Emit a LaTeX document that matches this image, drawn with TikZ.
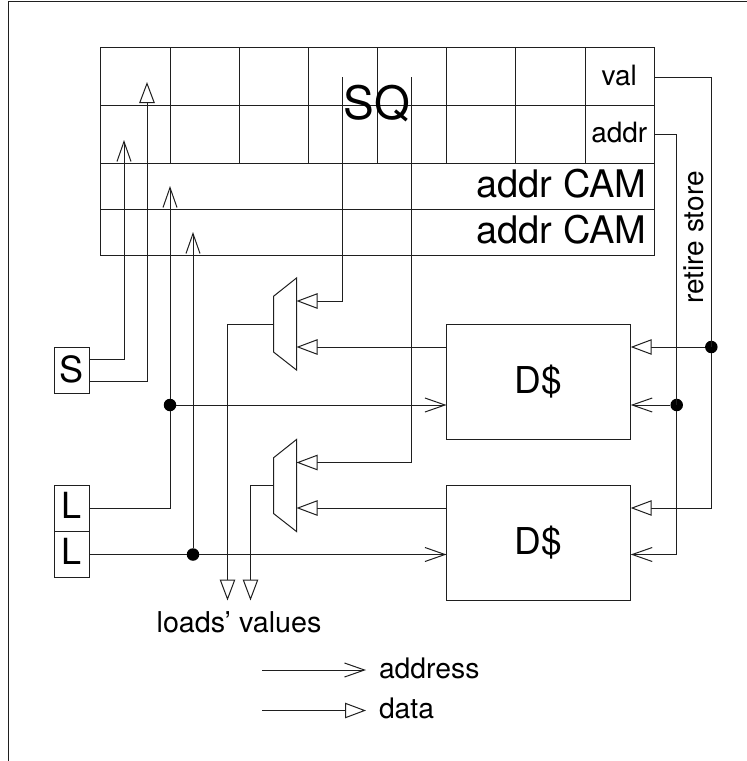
\documentclass[tikz,border=0pt]{standalone}
\usepackage{fontspec}
\setmainfont{TeX Gyre Heros}
\usetikzlibrary{arrows.meta,calc}
\newcommand{\fs}[1]{\fontsize{#1}{#1}\selectfont}
\definecolor{ink}{gray}{0.12}
\tikzset{
  every path/.style={line width=1pt},
  box/.style={draw=ink, inner sep=0pt, outer sep=0pt, anchor=north west},
  lbl/.style={inner sep=0pt, outer sep=0pt, anchor=base, text=black},
  ghost/.style={inner sep=0pt, outer sep=0pt},
  dot/.style={circle, fill=black, minimum size=12.5pt, inner sep=0pt, outer sep=0pt},
  addrw/.style={draw=ink, -{Straight Barb[length=20pt,width=14pt]}},
  dataw/.style={draw=ink, -{Triangle[length=21pt,width=15.5pt,fill=white]}},
  wire/.style={draw=ink}
}
\begin{document}
\begin{tikzpicture}[x=1pt,y=-1pt]
\useasboundingbox (0,0) rectangle (747,761);
% outer frame
\coordinate (fa) at (8.5,761);
\coordinate (fb) at (8.5,1.5);
\coordinate (fc) at (747,1.5);
\draw[wire] (fa) -- (fb) -- (fc);

% store queue cells
\foreach \n/\x/\w in {1/100.5/69.5,2/170/69,3/239/69,4/308/69.5,5/377.5/69,6/446.5/68.5,7/515/70,8/585/69}{
  \node[box, minimum width=\w pt, minimum height=58pt] (top\n) at (\x,47.5) {};
  \node[box, minimum width=\w pt, minimum height=57.5pt] (bot\n) at (\x,105.5) {};
}
\node[box, minimum width=553.5pt, minimum height=46pt] (cam1) at (100.5,163) {};
\node[box, minimum width=553.5pt, minimum height=46pt] (cam2) at (100.5,209) {};

\node[lbl] (tsq) at (377,119.5) {\fs{46}SQ};
\node[lbl] (tval) at (619.3,85) {\fs{28}val};
\node[lbl] (taddr) at (619.3,142.7) {\fs{28}addr};
\node[lbl, anchor=base east] (tcam1) at (646.5,197.5) {\fs{38}addr CAM};
\node[lbl, anchor=base east] (tcam2) at (646.5,243.5) {\fs{38}addr CAM};
\node[lbl, rotate=90] (tret) at (703.3,237.5) {\fs{28}retire store};

% ports on queue
\coordinate (valp) at (654,77);
\coordinate (addrp) at (654,134);
\coordinate (sq1) at (342.5,77);
\coordinate (sq2) at (411.7,77);
\coordinate (s1t) at (124,140);
\coordinate (s2t) at (147,82);
\coordinate (l1t) at (170,186);
\coordinate (l2t) at (193,232);

% load / store buffers
\node[box, minimum width=35pt, minimum height=46pt] (S) at (54.5,347) {};
\node[box, minimum width=35pt, minimum height=46.5pt] (L1) at (54.5,485) {};
\node[box, minimum width=35pt, minimum height=46pt] (L2) at (54.5,531.5) {};
\node[lbl] (tS) at (72,382) {\fs{36}S};
\node[lbl] (tL1) at (72,518.3) {\fs{36}L};
\node[lbl] (tL2) at (72,564.3) {\fs{36}L};
\coordinate (s1p) at (89.5,359);
\coordinate (s2p) at (89.5,381.5);
\coordinate (l1p) at (89.5,508);
\coordinate (l2p) at (89.5,554.5);

% caches
\node[box, minimum width=184.2pt, minimum height=115.5pt] (d1) at (446.5,324) {};
\node[box, minimum width=184.2pt, minimum height=115pt] (d2) at (446.5,485.5) {};
\node[lbl] (td1) at (538.6,393.5) {\fs{37}D\$};
\node[lbl] (td2) at (538.6,554) {\fs{37}D\$};
\coordinate (d1dl) at (446.5,347);
\coordinate (d1al) at (446.5,405);
\coordinate (d1dr) at (630.7,347);
\coordinate (d1ar) at (630.7,405);
\coordinate (d2dl) at (446.5,508);
\coordinate (d2al) at (446.5,554.5);
\coordinate (d2dr) at (630.7,508);
\coordinate (d2ar) at (630.7,554.5);

% muxes
\node[ghost, minimum width=23pt, minimum height=92pt] (m1) at (285,324) {};
\node[ghost, minimum width=23pt, minimum height=92pt] (m2) at (285,485.5) {};
\draw[wire] (273.5,296.3) -- (296.5,278) -- (296.5,370) -- (273.5,352) -- cycle;
\draw[wire] (273.5,457.8) -- (296.5,439.5) -- (296.5,531.5) -- (273.5,513.5) -- cycle;
\coordinate (m1a) at (296.5,301);
\coordinate (m1b) at (296.5,347);
\coordinate (m2a) at (296.5,462.5);
\coordinate (m2b) at (296.5,508);
\coordinate (m1o) at (273.5,324);
\coordinate (m2o) at (273.5,485.5);
\coordinate (o1) at (227.5,600.5);
\coordinate (o2) at (250.5,600.5);

% junctions
\node[dot] (j1) at (170,405) {};
\node[dot] (j2) at (193,554.5) {};
\node[dot] (j3) at (711.3,347) {};
\node[dot] (j4) at (676.7,405) {};

% store to queue
\draw[addrw] (s1p) -| (s1t);
\draw[dataw] (s2p) -| (s2t);
% loads
\draw[wire] (l1p) -| (j1);
\draw[addrw] (j1) -- (l1t);
\draw[addrw] (j1) -- (d1al);
\draw[wire] (l2p) -- (j2);
\draw[addrw] (j2) -- (l2t);
\draw[addrw] (j2) -- (d2al);
% queue forwarding to mux
\draw[dataw] (sq1) |- (m1a);
\draw[dataw] (sq2) |- (m2a);
% cache to mux
\draw[dataw] (d1dl) -- (m1b);
\draw[dataw] (d2dl) -- (m2b);
% mux outputs
\draw[dataw] (m1o) -| (o1);
\draw[dataw] (m2o) -| (o2);
% retire
\draw[wire] (valp) -| (j3.center);
\draw[dataw] (j3) -- (d1dr);
\draw[dataw] (j3) |- (d2dr);
\draw[wire] (addrp) -| (j4.center);
\draw[addrw] (j4) -- (d1ar);
\draw[addrw] (j4) |- (d2ar);

\node[lbl] (tlv) at (239,632.3) {\fs{28.7}loads' values};

% legend
\coordinate (la1) at (262,670);
\coordinate (la2) at (366,670);
\coordinate (ld1) at (262,710.5);
\coordinate (ld2) at (366,710.5);
\draw[addrw] (la1) -- (la2);
\draw[dataw] (ld1) -- (ld2);
\node[lbl, anchor=base west] (tad) at (379,678) {\fs{28.3}address};
\node[lbl, anchor=base west] (tdt) at (379,718.3) {\fs{28.3}data};
\end{tikzpicture}
\end{document}
